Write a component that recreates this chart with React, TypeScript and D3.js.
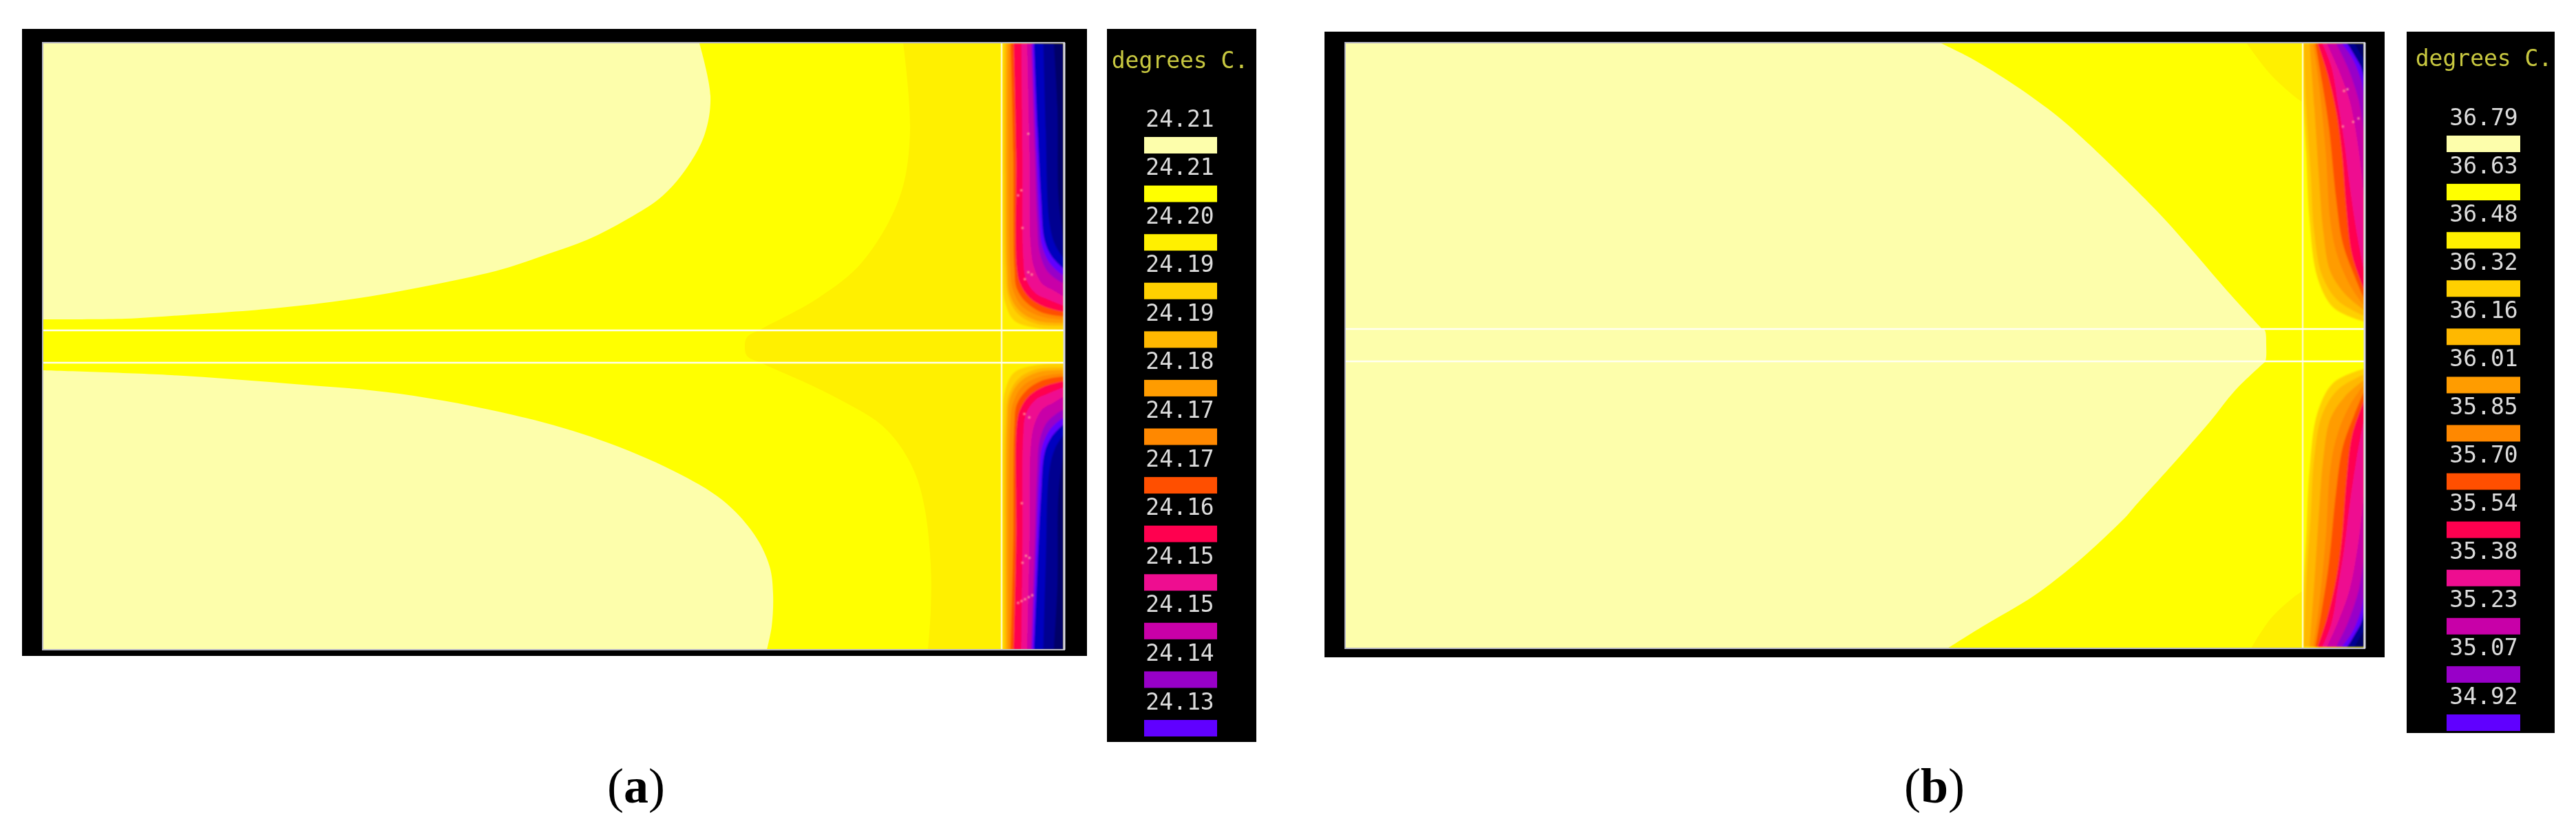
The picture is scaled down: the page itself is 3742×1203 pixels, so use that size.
import React from "react";
import * as d3 from "d3";

type Pt = [number, number];

// ---- legend data
const legendColors = ["#fdfeab", "#ffff00", "#fff000", "#ffd000", "#ffb800", "#ff9c00", "#ff8800", "#ff5000", "#ff0050", "#ee1090", "#c800a8", "#9800c8", "#6000ff"];
const labelsA = ["24.21", "24.21", "24.20", "24.19", "24.19", "24.18", "24.17", "24.17", "24.16", "24.15", "24.15", "24.14", "24.13"];
const labelsB = ["36.79", "36.63", "36.48", "36.32", "36.16", "36.01", "35.85", "35.70", "35.54", "35.38", "35.23", "35.07", "34.92"];
const coldColors = ["#0000c0", "#000090", "#000068"];

// ---- panel (a) isotherms, in field cells from the plot's top-left corner
const paleTopA: Pt[] = [[954, 1], [970, 77], [962, 132], [937, 180], [900, 223], [850, 256], [792, 286], [734, 307], [668, 329], [576, 350], [460, 371], [336, 386], [187, 397], [120, 401], [0, 402]];
const paleBottomA: Pt[] = [[0, 476], [187, 483], [353, 495], [518, 510], [684, 541], [809, 577], [916, 622], [988, 665], [1034, 715], [1056, 761], [1061, 801], [1059, 848], [1052, 882]];
const goldA: Pt[] = [[1250, 0], [1260, 128], [1245, 224], [1191, 318], [1128, 370], [1044, 416], [1023, 428], [1020, 441], [1023, 455], [1045, 466], [1117, 498], [1170, 525], [1213, 551], [1242, 581], [1267, 625], [1281, 675], [1290, 758], [1290, 825], [1286, 882]];

// ---- panel (b) isotherms
const paleTopB: Pt[] = [[866, 1], [910, 23], [973, 62], [1035, 107], [1080, 147], [1146, 211], [1189, 255], [1236, 308], [1279, 358], [1331, 415]];
const paleBottomB: Pt[] = [[1336, 464], [1293, 505], [1256, 551], [1209, 605], [1146, 675], [1134, 689], [1062, 756], [1000, 804], [928, 847], [875, 880]];
const paleNoseB: Pt[] = [[1331, 415], [1336, 418], [1338, 438], [1336, 464], [1330, 464]];
const goldCornerTopB: Pt[] = [[1309, 0], [1346, 48], [1389, 85], [1391, 85], [1391, 0]];
const goldCornerBottomB: Pt[] = [[1316, 880], [1346, 835], [1389, 798], [1391, 798], [1391, 880]];

// ---- end-zone isotherms, upper half (the lower half is its reflection), zone grid units
const zoneA: Pt[][] = [
  [[50, 28], [50, 1000], [60, 1150], [100, 1230], [200, 1262], [312, 1270]],
  [[60, 28], [62, 1000], [75, 1130], [120, 1205], [200, 1245], [312, 1252]],
  [[68, 28], [70, 1000], [82, 1120], [125, 1190], [205, 1232], [312, 1240]],
  [[76, 28], [82, 1000], [95, 1100], [135, 1170], [215, 1212], [312, 1226]],
  [[84, 28], [95, 500], [100, 1000], [110, 1090], [150, 1150], [220, 1195], [312, 1212]],
  [[97, 28], [107, 500], [110, 1000], [125, 1070], [165, 1130], [230, 1170], [312, 1192]],
  [[130, 28], [135, 500], [138, 950], [150, 1050], [190, 1110], [250, 1140], [312, 1165]],
  [[155, 28], [165, 500], [170, 900], [185, 1000], [220, 1070], [270, 1100], [312, 1125]],
  [[172, 28], [188, 500], [198, 800], [208, 930], [238, 1010], [280, 1050], [312, 1070]],
  [[178, 28], [195, 500], [208, 800], [218, 900], [245, 970], [280, 1010], [312, 1035]],
  [[185, 28], [200, 400], [215, 700], [230, 880], [260, 950], [312, 1005]],
  [[225, 28], [235, 400], [250, 800], [275, 900], [312, 960]],
  [[270, 28], [285, 300], [290, 700], [312, 880]],
];
const zoneB: Pt[][] = [
  [[45, 240], [60, 500], [75, 800], [110, 1050], [180, 1180], [312, 1240]],
  [[50, 28], [60, 300], [80, 600], [95, 850], [130, 1040], [200, 1150], [312, 1215]],
  [[75, 28], [95, 300], [115, 600], [135, 850], [165, 1020], [230, 1120], [312, 1190]],
  [[90, 28], [115, 200], [145, 500], [165, 800], [195, 950], [250, 1080], [312, 1170]],
  [[100, 28], [130, 200], [160, 400], [190, 700], [220, 900], [270, 1040], [312, 1140]],
  [[110, 28], [150, 150], [190, 320], [215, 500], [235, 750], [260, 950], [312, 1100]],
  [[130, 28], [170, 130], [200, 300], [225, 450], [250, 650], [280, 850], [312, 1020]],
  [[150, 28], [200, 140], [250, 280], [290, 500], [312, 700]],
  [[190, 28], [240, 130], [290, 280], [312, 420]],
  [[215, 28], [260, 90], [300, 190], [312, 270]],
  [[235, 28], [280, 80], [312, 180]],
  [[240, 28], [312, 150]],
  [[270, 28], [312, 100]],
];
const specksTopA: Pt[] = [[160, 420], [130, 665], [116, 687], [135, 828], [160, 1020], [175, 1030], [145, 1050]];
const specksBottomA: Pt[] = [[132, 663], [143, 1050], [164, 1035], [150, 435], [165, 426], [135, 405], [116, 231], [131, 239], [146, 247], [162, 256], [177, 264]];
const specksTopB: Pt[] = [[225, 235], [240, 228], [265, 370], [288, 355], [220, 390]];

interface PanelCfg {
  id: string; black: [number, number, number, number];
  x0: number; x1: number; y0: number; y1: number; domX: number; domY: number;
  lineY: [number, number]; vline: number; stripFill: string;
}

const zoneColor = (i: number) => [...legendColors.slice(3), ...coldColors][i];

const smooth = d3.line().curve(d3.curveCatmullRom.alpha(0.5));

function closed(pts: Pt[], closers: Pt[]) {
  return (smooth(pts) || "") + closers.map((c) => `L${c[0]},${c[1]}`).join("") + "Z";
}

function Panel({ cfg, children, zone, specksTop, specksBottom }: { cfg: PanelCfg; children: (x: any, y: any) => React.ReactNode; zone: Pt[][]; specksTop: Pt[]; specksBottom: Pt[] }) {
  const x = d3.scaleLinear().domain([0, cfg.domX]).range([cfg.x0, cfg.x1]);
  const y = d3.scaleLinear().domain([0, cfg.domY]).range([cfg.y0, cfg.y1]);
  const zx = d3.scaleLinear().domain([45, 312]).range([cfg.vline, cfg.x1]);
  const zy = d3.scaleLinear().domain([28, 1272]).range([cfg.y0 + 1, cfg.lineY[0]]);
  const mid = (cfg.lineY[0] + cfg.lineY[1]) / 2;
  const half = (
    <g filter="url(#soft)">
      {zone.map((b, i) => {
        const pts = b.map((p) => [zx(p[0]), zy(p[1])] as Pt);
        return <path key={i} d={closed(pts, [[cfg.x1, zy(28)], [pts[0][0], zy(28)]])} fill={zoneColor(i)} />;
      })}
    </g>
  );
  const dots = (list: Pt[]) => list.map((p, i) => <rect key={i} x={zx(p[0]) - 1.5} y={zy(p[1]) - 1.5} width={3} height={3} fill="#ff9a9a" />);
  return (
    <g>
      <rect x={cfg.black[0]} y={cfg.black[1]} width={cfg.black[2] - cfg.black[0]} height={cfg.black[3] - cfg.black[1]} fill="#000" />
      <clipPath id={`clip-${cfg.id}`}><rect x={cfg.x0} y={cfg.y0} width={cfg.x1 - cfg.x0} height={cfg.y1 - cfg.y0} /></clipPath>
      <g clipPath={`url(#clip-${cfg.id})`}>
        <rect x={cfg.x0} y={cfg.y0} width={cfg.x1 - cfg.x0} height={cfg.y1 - cfg.y0} fill="#ffff00" />
        {children(x, y)}
        {half}
        <g transform={`translate(0,${2 * mid}) scale(1,-1)`}>{half}</g>
        <g filter="url(#soft)">
          {dots(specksTop)}
          <g transform={`translate(0,${2 * mid}) scale(1,-1)`}>{dots(specksBottom)}</g>
        </g>
      </g>
      {cfg.stripFill !== "" && <rect x={cfg.vline} y={cfg.lineY[0]} width={cfg.x1 - cfg.vline} height={cfg.lineY[1] - cfg.lineY[0]} fill={cfg.stripFill} />}
      <g filter="url(#softer)">
        <line x1={cfg.vline} x2={cfg.vline} y1={cfg.y0} y2={cfg.y1} stroke="#fffbc0" strokeWidth={2.5} />
        <line x1={cfg.x0} x2={cfg.x1} y1={cfg.lineY[0]} y2={cfg.lineY[0]} stroke="#fffff0" strokeWidth={2.5} />
        <line x1={cfg.x0} x2={cfg.x1} y1={cfg.lineY[1]} y2={cfg.lineY[1]} stroke="#fffff0" strokeWidth={2.5} />
      </g>
      <rect x={cfg.x0} y={cfg.y0} width={cfg.x1 - cfg.x0 + 1} height={cfg.y1 - cfg.y0} fill="none" stroke="#b8b8c4" strokeWidth={2} />
      <line x1={cfg.x1 + 1} x2={cfg.x1 + 1} y1={cfg.y0} y2={cfg.y1} stroke="#d8d8e4" strokeWidth={3} />
    </g>
  );
}

function Legend({ box, barX, firstBar, lastBar, labels, titleY, labelCx }: { box: [number, number, number, number]; barX: [number, number]; firstBar: number; lastBar: number; labels: string[]; titleY: number; labelCx: number }) {
  const y = d3.scalePoint<string>().domain(labels.map((_, i) => String(i))).range([firstBar, lastBar]);
  const barH = 24;
  const font = "'DejaVu Sans Mono', monospace";
  return (
    <g>
      <rect x={box[0]} y={box[1]} width={box[2] - box[0]} height={box[3] - box[1]} fill="#000" />
      <g filter="url(#softer)">
        <text x={labelCx} y={titleY} textAnchor="middle" fontFamily={font} fontSize={33} fill="#c8c840" dominantBaseline="middle">degrees C.</text>
        {labels.map((l, i) => {
          const by = y(String(i)) as number;
          return (
            <g key={i}>
              <text x={labelCx} y={by - 25} textAnchor="middle" fontFamily={font} fontSize={33} fill="#dcdcdc" dominantBaseline="middle">{l}</text>
              <rect x={barX[0]} y={by} width={barX[1] - barX[0]} height={barH} fill={legendColors[i]} />
            </g>
          );
        })}
      </g>
    </g>
  );
}

const cfgA: PanelCfg = { id: "a", black: [32, 42, 1579, 953], x0: 62, x1: 1545, y0: 62, y1: 944, domX: 1483, domY: 882, lineY: [480, 527], vline: 1455, stripFill: "#fff000" };
const cfgB: PanelCfg = { id: "b", black: [1924, 46, 3464, 955], x0: 1954, x1: 3434, y0: 62, y1: 942, domX: 1480, domY: 880, lineY: [478, 525], vline: 3345, stripFill: "" };

export default function App() {
  const toPx = (pts: Pt[], x: any, y: any) => pts.map((p) => [x(p[0]), y(p[1])] as Pt);
  return (
    <svg width={3742} height={1203} viewBox="0 0 3742 1203" style={{ position: "absolute", left: 0, top: 0, display: "block", background: "#fff" }}>
      <defs>
        <filter id="soft" x="-5%" y="-5%" width="110%" height="110%"><feGaussianBlur stdDeviation={1.1} /></filter>
        <filter id="softer" x="-5%" y="-5%" width="110%" height="110%"><feGaussianBlur stdDeviation={0.6} /></filter>
      </defs>
      <Panel cfg={cfgA} zone={zoneA} specksTop={specksTopA} specksBottom={specksBottomA}>
        {(x, y) => {
          const gold = toPx(goldA, x, y);
          const top = toPx(paleTopA, x, y);
          const bot = toPx(paleBottomA, x, y);
          return (
            <g>
              <path d={closed(gold, [[x(1483), y(882)], [x(1483), y(0)]])} fill="#fff000" />
              <path d={closed(top, [[x(0), y(0)]])} fill={legendColors[0]} />
              <path d={closed(bot, [[x(0), y(882)]])} fill={legendColors[0]} />
            </g>
          );
        }}
      </Panel>
      <Panel cfg={cfgB} zone={zoneB} specksTop={specksTopB} specksBottom={[]}>
        {(x, y) => {
          const first = paleTopB[paleTopB.length - 1];
          const last = paleBottomB[0];
          return (
            <g>
              <path d={closed(toPx(paleTopB, x, y), [[x(0), y(first[1])], [x(0), y(0)]])} fill={legendColors[0]} />
              <path d={closed(toPx(paleBottomB, x, y), [[x(0), y(880)], [x(0), y(last[1])]])} fill={legendColors[0]} />
              <path d={closed(toPx(paleNoseB, x, y), [[x(0), y(last[1])], [x(0), y(first[1])]])} fill={legendColors[0]} />
              <path d={closed(toPx(goldCornerTopB, x, y), [])} fill="#fff000" />
              <path d={closed(toPx(goldCornerBottomB, x, y), [])} fill="#fff000" />
            </g>
          );
        }}
      </Panel>
      <Legend box={[1608, 42, 1825, 1078]} barX={[1662, 1768]} firstBar={199} lastBar={1046} labels={labelsA} titleY={89} labelCx={1714} />
      <Legend box={[3496, 46, 3711, 1065]} barX={[3554, 3661]} firstBar={197} lastBar={1038} labels={labelsB} titleY={86} labelCx={3608} />
      <text x={924} y={1166} textAnchor="middle" fontFamily="'Liberation Serif', serif" fontSize={72} fill="#000">(<tspan fontWeight="bold">a</tspan>)</text>
      <text x={2810} y={1166} textAnchor="middle" fontFamily="'Liberation Serif', serif" fontSize={72} fill="#000">(<tspan fontWeight="bold">b</tspan>)</text>
    </svg>
  );
}
